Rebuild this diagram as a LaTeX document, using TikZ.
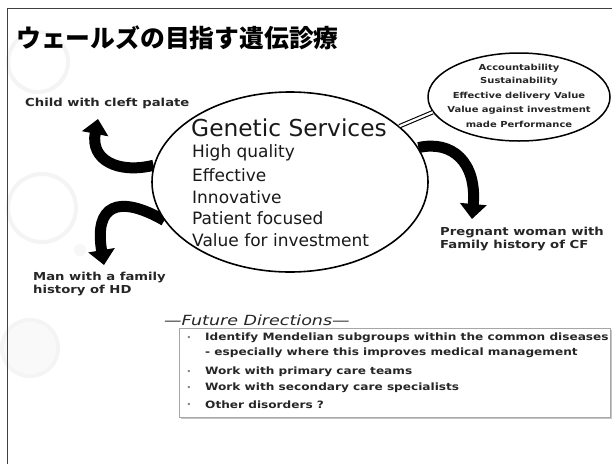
\documentclass[tikz,border=0pt]{standalone}
\usepackage{fontspec}
\usetikzlibrary{arrows.meta,shapes.geometric}
\setmainfont{DejaVu Sans}
\newfontfamily\jpfont{Noto Sans CJK JP}
\newfontfamily\hand{DejaVu Sans}
\newfontfamily\lbl[FakeStretch=1.2]{DejaVu Sans}
\newfontfamily\headfont[FakeStretch=1.25]{DejaVu Sans}
\pgfdeclarelayer{back}
\pgfdeclarelayer{under}
\pgfsetlayers{back,under,main}
\tikzset{
  ring/.style={draw=gray!9, line width=4pt},
  bigarrow/.style={draw=black, line width=11pt, -{Triangle[length=15pt,width=26pt]}},
  servicebox/.style={ellipse, draw=black, line width=1.6pt, fill=white,
    minimum width=276pt, minimum height=180pt, inner sep=0pt},
  valuebox/.style={ellipse, draw=black, line width=1.5pt, fill=white,
    minimum width=182pt, minimum height=88pt, inner sep=0pt},
  svctext/.style={anchor=west, inner sep=0pt, font=\hand\fontsize{17}{17}\selectfont, text=black!90},
  caption/.style={anchor=west, inner sep=0pt, font=\lbl\bfseries\fontsize{11}{11}\selectfont, text=black!85},
  valtext/.style={inner sep=0pt, font=\lbl\bfseries\fontsize{8.3}{8.3}\selectfont, text=black!85},
  listtext/.style={anchor=west, inner sep=0pt, font=\lbl\bfseries\fontsize{10.1}{10.1}\selectfont, text=black!85},
  dot/.style={inner sep=0pt, font=\fontsize{8}{8}\selectfont, text=gray},
}
\begin{document}
\begin{tikzpicture}[x=1pt,y=-1pt]
\useasboundingbox (0,0) rectangle (612,464);

% page background with faint decorative bubbles
\begin{pgfonlayer}{back}
  \fill[white] (0,0) rectangle (612,464);
  \draw[ring] (38,62) circle (30);
  \draw[ring] (42,208) circle (34);
  \draw[ring] (30,348) circle (28);
  \fill[gray!5] (30,348) circle (26);
  \fill[gray!6] (80,250) circle (6);
  \draw[black!75, line width=1pt] (7,464) -- (7,8) -- (612,8);
\end{pgfonlayer}

% title
\node[anchor=west, inner sep=0pt, font=\jpfont\bfseries\fontsize{24.8}{24.8}\selectfont]
  (title) at (16,38) {ウェールズの目指す遺伝診療};

% central ellipse and its contents
\node[servicebox] (main) at (290,182) {};
\node[svctext, font=\hand\fontsize{23.3}{23.3}\selectfont] (gs) at (191,128) {Genetic Services};
\node[svctext] (q1) at (192,153) {High quality};
\node[svctext] (q2) at (192,175) {Effective};
\node[svctext] (q3) at (192,197) {Innovative};
\node[svctext] (q4) at (192,218) {Patient focused};
\node[svctext] (q5) at (192,240) {Value for investment};

% value ellipse, top right
\node[valuebox] (val) at (519,97) {};
\node[valtext] (v1) at (519,68) {Accountability};
\node[valtext] (v2) at (519,81) {Sustainability};
\node[valtext] (v3) at (519,96) {Effective delivery Value};
\node[valtext] (v4) at (519,110) {Value against investment};
\node[valtext] (v5) at (519,124) {made Performance};
\draw[double=white, double distance=2.2pt, line width=1.1pt] (main.27) -- (val.190);

% patient groups
\node[caption] (cleft) at (25,103) {Child with cleft palate};
\node[caption, align=left] (hd) at (33,284) {Man with a family\\[2pt]history of HD};
\node[caption, align=left] (cf) at (440,239) {Pregnant woman with\\[2pt]Family history of CF};

\coordinate (tipA) at (98,119);
\coordinate (tipB) at (104,265);
\coordinate (tipC) at (472,219);
\begin{pgfonlayer}{under}
  \draw[bigarrow] (main.173) .. controls (118,174) and (90,160) .. (tipA);
  \draw[bigarrow] (main.197) .. controls (118,194) and (94,205) .. (tipB);
  \draw[bigarrow] (main.15) .. controls (452,140) and (477,162) .. (tipC);
\end{pgfonlayer}

% future directions
\node[anchor=west, inner sep=0pt, font=\headfont\itshape\fontsize{14}{14}\selectfont, text=black!85]
  (fd) at (164,320) {—Future Directions—};
\fill[gray!45] (181,330) rectangle (612,419);
\node[draw=gray!70, line width=0.8pt, fill=white, anchor=north west, minimum width=431pt,
  minimum height=89pt, inner sep=0pt] (list) at (179,328) {};
\node[dot] (b1) at (189,338) {•};
\node[dot] (b2) at (189,372) {•};
\node[dot] (b3) at (189,388) {•};
\node[dot] (b4) at (189,405) {•};
\node[listtext] (l1) at (205,338) {Identify Mendelian subgroups within the common diseases};
\node[listtext] (l1b) at (205,353) {- especially where this improves medical management};
\node[listtext] (l2) at (205,372) {Work with primary care teams};
\node[listtext] (l3) at (205,388) {Work with secondary care specialists};
\node[listtext] (l4) at (205,405) {Other disorders ?};
\end{tikzpicture}
\end{document}
